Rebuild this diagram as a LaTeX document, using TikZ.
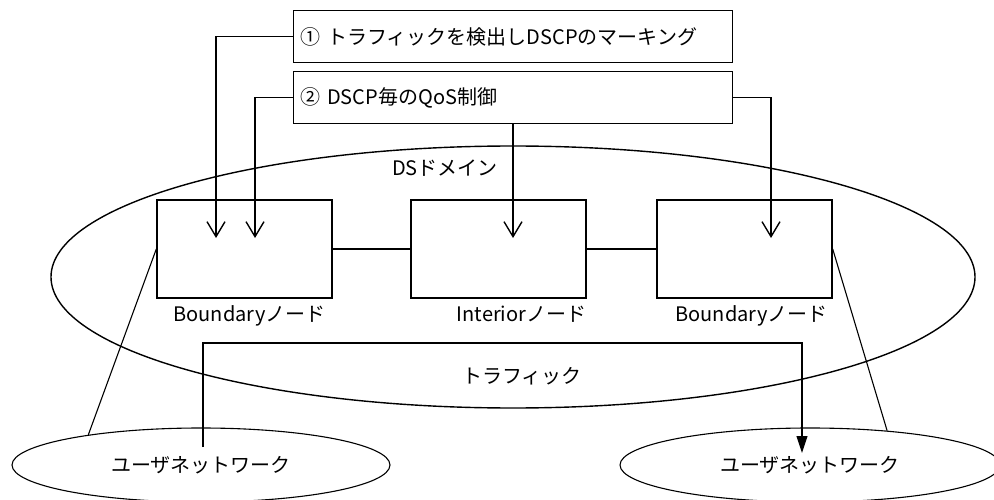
\documentclass[tikz,border=0pt]{standalone}
\usepackage{fontspec}
\setmainfont{Noto Sans CJK JP}
\usetikzlibrary{arrows.meta,positioning,shapes.geometric}
\begin{document}
\begin{tikzpicture}[x=1pt,y=-1pt,line width=1.4pt,font=\fontsize{20}{24}\selectfont,
  stepbox/.style={draw,minimum height=52pt,text width=425pt,align=left,inner xsep=7pt,inner ysep=0pt},
  nodebox/.style={draw,minimum width=175pt,minimum height=98pt,inner sep=0pt},
  net/.style={draw,ellipse,inner sep=0pt,line width=1.1pt},
  barb/.style={-{Straight Barb[length=15pt,width=18pt]}}]
\useasboundingbox (0,0) rectangle (994,500);
\node[draw,ellipse,minimum width=924pt,minimum height=262pt,inner sep=0pt] (ds) at (513,277) {};
\node (dslab) at (445,168) {DSドメイン};
\node[stepbox] (mark) at (513,36.5) {① トラフィックを検出しDSCPのマーキング};
\node[stepbox] (qos) at (513,97.5) {② DSCP毎のQoS制御};
\node[nodebox] (bndL) at (244.5,249) {};
\node[nodebox] (intr) at (498.5,249) {};
\node[nodebox] (bndR) at (744.5,249) {};
\node[below=3pt of bndL,xshift=5pt] (bndLlab) {Boundaryノード};
\node[below=3pt of intr,xshift=23pt] (intrlab) {Interiorノード};
\node[below=3pt of bndR,xshift=7pt] (bndRlab) {Boundaryノード};
\draw (bndL.east) -- (intr.west);
\draw (intr.east) -- (bndR.west);
\foreach \n/\x in {tA/216,tB/255,tC/513,tD/771} \coordinate (\n) at (\x,238);
\draw[barb] (mark.west) -| (tA);
\draw[barb] (qos.west) -| (tB);
\draw[barb] (qos.south) -- (tC);
\draw[barb] (qos.east) -| (tD);
\node[net,minimum width=378pt,minimum height=74pt] (usrL) at (201,465) {ユーザネットワーク};
\node[net,minimum width=380pt,minimum height=74pt] (usrR) at (810,465) {ユーザネットワーク};
\draw[line width=1.1pt] (bndL.west) -- (usrL.165);
\draw[line width=1.1pt] (bndR.east) -- (usrR.24);
\node (trlab) at (522,376) {トラフィック};
\coordinate (trS) at (203,447);
\coordinate (trTop) at (203,343);
\coordinate (trE) at (802,453);
\draw[line width=1.1pt,-{Triangle[length=17pt,width=11pt]}] (trS) -- (trTop) -| (trE);
\end{tikzpicture}
\end{document}
